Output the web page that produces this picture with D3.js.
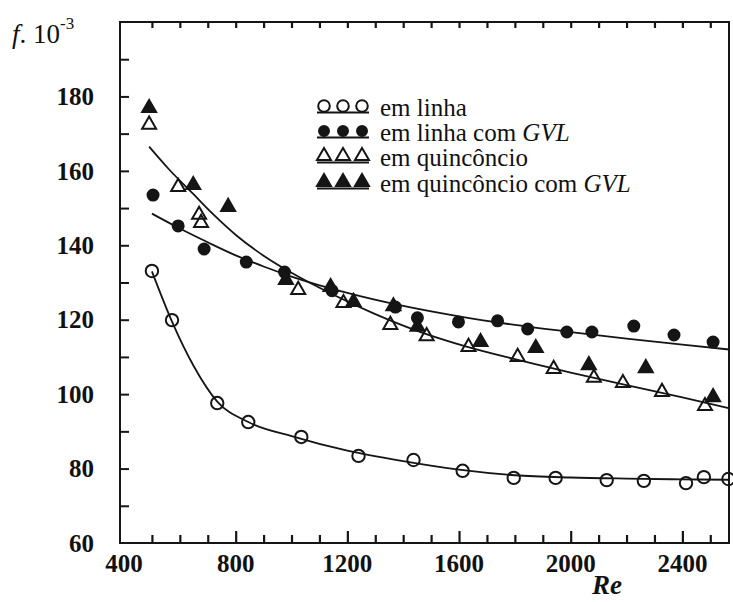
<!DOCTYPE html>
<html>
<head>
<meta charset="utf-8">
<script src="https://cdn.jsdelivr.net/npm/d3@7"></script>
<style>
  body { margin: 0; background: #fff; }
  text { font-family: "Liberation Serif", "Times New Roman", serif; fill: #111; }
</style>
</head>
<body>
<div id="chart"></div>
<script>
// em linha (open circles)
const linhaRe = [500, 572, 734, 845, 1035, 1240, 1437, 1613, 1796, 1946, 2129, 2262, 2413, 2477, 2565];
const linhaF  = [133.1, 119.9, 97.6, 92.5, 88.5, 83.4, 82.3, 79.4, 77.5, 77.5, 76.9, 76.7, 76.1, 77.7, 77.2];

// em linha com GVL (filled circles)
const linhaGvlRe = [504, 594, 687, 838, 975, 1145, 1372, 1451, 1598, 1738, 1846, 1986, 2076, 2226, 2370, 2510];
const linhaGvlF  = [153.5, 145.2, 139.0, 135.5, 132.8, 127.8, 123.4, 120.5, 119.4, 119.7, 117.5, 116.7, 116.7, 118.3, 115.9, 114.0];

// em quincôncio (open triangles)
const quinRe = [490, 594, 669, 676, 1024, 1186, 1354, 1484, 1634, 1810, 1939, 2083, 2187, 2327, 2481];
const quinF  = [172.4, 155.7, 148.2, 146.0, 128.0, 124.5, 118.6, 115.6, 112.7, 110.0, 106.8, 104.4, 103.0, 100.6, 96.8];

// em quincôncio com GVL (filled triangles)
const quinGvlRe = [490, 648, 773, 980, 1140, 1222, 1365, 1451, 1677, 1875, 2065, 2269, 2510];
const quinGvlF  = [176.9, 156.2, 150.3, 130.7, 128.8, 124.8, 123.6, 118.1, 114.0, 112.4, 107.8, 107.0, 99.2];

// fitted curves
const linhaFitRe = [500, 572, 650, 734, 845, 1000, 1200, 1400, 1600, 1800, 2000, 2200, 2400, 2567];
const linhaFitF  = [133, 119.5, 107.5, 98, 92.5, 88.7, 84.8, 82, 79.7, 78.2, 77.6, 77.3, 77.1, 77];
const gvlFitRe = [500, 600, 700, 800, 900, 1000, 1200, 1400, 1600, 1800, 2000, 2200, 2400, 2567];
const gvlFitF  = [148.5, 144.5, 140.8, 137.3, 134.3, 131.6, 127.2, 123.7, 120.9, 118.6, 116.7, 114.9, 113.3, 112];
const quinFitRe = [490, 560, 648, 720, 805, 900, 1000, 1150, 1300, 1450, 1630, 1800, 2000, 2200, 2400, 2567];
const quinFitF  = [166.5, 160.5, 153.8, 148.3, 142.5, 137.2, 132.6, 126.7, 121.5, 117, 112.7, 109.4, 105.8, 102.4, 99.1, 96.2];

const xTickLabels = [400, 800, 1200, 1600, 2000, 2400];
const yTickLabels = [60, 80, 100, 120, 140, 160, 180];

const legendNames = ['em linha', 'em linha com ', 'em quincôncio', 'em quincôncio com '];
const legendItalic = ['', 'GVL', '', 'GVL'];

const width = 733, height = 602;
const svg = d3.select('#chart').append('svg')
  .attr('width', width)
  .attr('height', height);

const x = d3.scaleLinear().domain([400, 2567]).range([124, 729]);
const y = d3.scaleLinear().domain([60, 200]).range([543, 22]);

const ink = '#151515';

// frame
svg.append('rect')
  .attr('x', x(400) - 4).attr('y', y(200))
  .attr('width', x(2567) - x(400) + 4).attr('height', y(60) - y(200))
  .attr('fill', 'none').attr('stroke', ink).attr('stroke-width', 2);

// bottom axis, ticks pointing inward
const bottom = svg.append('g').attr('transform', `translate(0,${y(60)})`);
bottom.call(d3.axisTop(x).tickValues(d3.range(500, 2567, 100)).tickSize(8).tickFormat(''))
  .call(g => g.select('.domain').remove())
  .call(g => g.selectAll('.tick line').attr('stroke', ink).attr('stroke-width', 2.2)
    .attr('y2', d => d % 400 === 0 ? -12 : -8));

xTickLabels.forEach(v => {
  svg.append('text')
    .attr('x', x(v)).attr('y', 572)
    .attr('text-anchor', 'middle')
    .attr('font-size', 25).attr('font-weight', 'bold')
    .text(v);
});

// top axis ticks
svg.append('g').attr('transform', `translate(0,${y(200)})`)
  .call(d3.axisBottom(x).tickValues(d3.range(500, 2567, 100)).tickSize(6).tickFormat(''))
  .call(g => g.select('.domain').remove())
  .call(g => g.selectAll('.tick line').attr('stroke', ink).attr('stroke-width', 2.2));

// left axis ticks
svg.append('g').attr('transform', `translate(${x(400) - 4},0)`)
  .call(d3.axisRight(y).tickValues(d3.range(70, 200, 10)).tickSize(9).tickFormat(''))
  .call(g => g.select('.domain').remove())
  .call(g => g.selectAll('.tick line').attr('stroke', ink).attr('stroke-width', 2));

yTickLabels.forEach(v => {
  svg.append('text')
    .attr('x', 94).attr('y', y(v))
    .attr('dy', '0.35em')
    .attr('text-anchor', 'end')
    .attr('font-size', 25).attr('font-weight', 'bold')
    .text(v);
});

// axis titles
const yt = svg.append('text').attr('x', 12).attr('y', 43).attr('font-size', 27);
yt.append('tspan').attr('font-style', 'italic').text('f');
yt.append('tspan').text('. 10');
yt.append('tspan').attr('font-size', 17).attr('dy', -14).text('-3');

svg.append('text')
  .attr('x', 607).attr('y', 594)
  .attr('text-anchor', 'middle')
  .attr('font-size', 27).attr('font-style', 'italic').attr('font-weight', 'bold')
  .text('Re');

// curves
const line = d3.line()
  .x(d => x(d[0]))
  .y(d => y(d[1]))
  .curve(d3.curveMonotoneX);

[[linhaFitRe, linhaFitF], [gvlFitRe, gvlFitF], [quinFitRe, quinFitF]].forEach(([re, f]) => {
  svg.append('path')
    .datum(d3.zip(re, f))
    .attr('d', line)
    .attr('fill', 'none')
    .attr('stroke', ink)
    .attr('stroke-width', 1.8);
});

// markers
const tri = d3.symbol().type(d3.symbolTriangle).size(85);

function drawCircles(re, f, filled, r) {
  svg.append('g').selectAll('circle')
    .data(d3.zip(re, f))
    .join('circle')
      .attr('cx', d => x(d[0]))
      .attr('cy', d => y(d[1]))
      .attr('r', r)
      .attr('fill', filled ? ink : '#fff')
      .attr('fill-opacity', filled ? 1 : 0)
      .attr('stroke', ink)
      .attr('stroke-width', 2);
}

function drawTriangles(re, f, filled) {
  svg.append('g').selectAll('path')
    .data(d3.zip(re, f))
    .join('path')
      .attr('d', tri)
      .attr('transform', d => `translate(${x(d[0])},${y(d[1])})`)
      .attr('fill', filled ? ink : 'none')
      .attr('stroke', ink)
      .attr('stroke-width', 2);
}

drawCircles(linhaRe, linhaF, false, 6.2);
drawCircles(linhaGvlRe, linhaGvlF, true, 5.5);
drawTriangles(quinRe, quinF, false);
drawTriangles(quinGvlRe, quinGvlF, true);

// legend
const legendY = [108, 133, 158, 184];
const legendX = [324, 343, 362];
legendNames.forEach((name, i) => {
  const g = svg.append('g');
  legendX.forEach(lx => {
    if (i < 2) {
      g.append('circle').attr('cx', lx).attr('cy', legendY[i] - 2).attr('r', i === 0 ? 5.8 : 5)
        .attr('fill', i === 1 ? ink : 'none').attr('stroke', ink).attr('stroke-width', 2);
    } else {
      g.append('path').attr('d', tri).attr('transform', `translate(${lx},${legendY[i] - 2})`)
        .attr('fill', i === 3 ? ink : 'none').attr('stroke', ink).attr('stroke-width', 2);
    }
  });
  g.append('line')
    .attr('x1', legendX[0] - 7).attr('x2', legendX[2] + 7)
    .attr('y1', legendY[i] + 4.5).attr('y2', legendY[i] + 4.5)
    .attr('stroke', ink).attr('stroke-width', 2);
  const t = g.append('text')
    .attr('x', 380).attr('y', legendY[i])
    .attr('dy', '0.3em')
    .attr('font-size', 25);
  t.append('tspan').text(name);
  if (legendItalic[i]) t.append('tspan').attr('font-style', 'italic').text(legendItalic[i]);
});
</script>
</body>
</html>
